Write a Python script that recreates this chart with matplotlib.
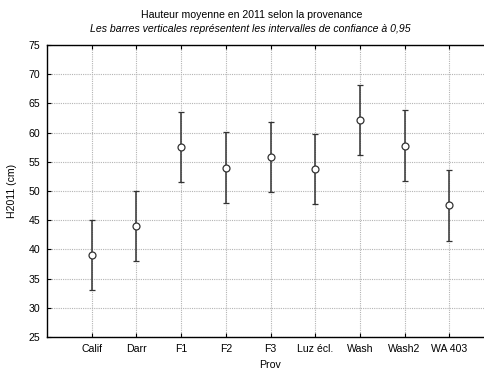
import matplotlib
matplotlib.use("Agg")
import numpy as np
import matplotlib.pyplot as plt

plt.rcParams['font.family'] = ['Liberation Sans', 'DejaVu Sans']

# data
prov = ["Calif", "Darr", "F1", "F2", "F3", "Luz écl.", "Wash", "Wash2", "WA 403"]
mean = [39.0, 44.0, 57.6, 54.0, 55.9, 53.8, 62.1, 57.7, 47.6]
low = [33.0, 38.0, 51.6, 48.0, 49.9, 47.7, 56.1, 51.7, 41.5]
high = [45.0, 50.0, 63.6, 60.1, 61.9, 59.8, 68.1, 63.8, 53.6]

x = np.arange(1, len(prov) + 1)
mean = np.array(mean)
err = [mean - np.array(low), np.array(high) - mean]

fig = plt.figure(figsize=(4.84, 3.72), dpi=100)
ax = fig.add_axes([47/484, 1 - 337/372, (494 - 47)/484, (337 - 45)/372])

ax.errorbar(x, mean, yerr=err, fmt='o', color='#333333', ecolor='#333333',
            elinewidth=1.1, capsize=2.5, capthick=1.0,
            markerfacecolor='white', markeredgecolor='#333333', markersize=5,
            markeredgewidth=0.9, zorder=3)

ax.set_xlim(0, 10)
ax.set_ylim(25, 75)
ax.set_xticks(x)
ax.set_xticklabels(prov)
ax.set_yticks(np.arange(25, 76, 5))
ax.grid(True, color='#b4b4b4', linestyle=(0, (1, 1)), linewidth=0.8)
ax.tick_params(labelsize=7.6, direction='in', length=3, top=True, right=False, pad=5)
ax.spines['right'].set_visible(False)
for s in ax.spines.values():
    s.set_linewidth(1.0)

ax.set_xlabel("Prov", fontsize=7.6, labelpad=4)
ax.set_ylabel("H2011 (cm)", fontsize=7.6, labelpad=8)
fig.text(252/484, 1 - 15/372, "Hauteur moyenne en 2011 selon la provenance",
         ha='center', va='center', fontsize=7.6)
fig.text(250/484, 1 - 29/372,
         "Les barres verticales représentent les intervalles de confiance à 0,95",
         ha='center', va='center', fontsize=7.6, style='italic')

fig.savefig("out.png", dpi=100)
